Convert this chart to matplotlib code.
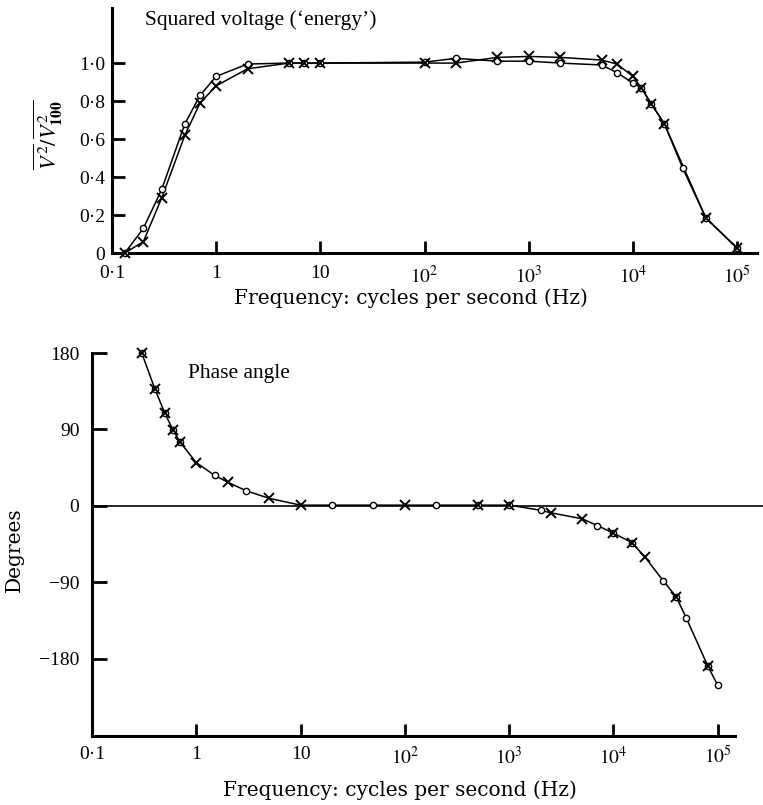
import matplotlib
matplotlib.use('Agg')
import matplotlib.pyplot as plt
from matplotlib.ticker import NullLocator

plt.rcParams['font.family'] = ['Liberation Serif', 'DejaVu Serif']
plt.rcParams['mathtext.fontset'] = 'stix'

# squared voltage, two runs (circles and crosses)
energy_o_freq = [0.133, 0.2, 0.3, 0.5, 0.7, 1.0, 2.0, 5.0, 7.0, 10, 100, 200, 500, 1000,
                 2000, 5000, 7000, 10000, 12000, 15000, 20000, 30000, 50000, 100000]
energy_o = [0.0, 0.13, 0.335, 0.68, 0.83, 0.93, 0.995, 1.0, 1.0, 1.0, 1.005, 1.025, 1.01, 1.01,
            1.0, 0.99, 0.95, 0.895, 0.87, 0.785, 0.68, 0.447, 0.185, 0.025]

energy_x_freq = [0.133, 0.2, 0.3, 0.5, 0.7, 1.0, 2.0, 5.0, 7.0, 10, 100, 200, 500, 1000,
                 2000, 5000, 7000, 10000, 12000, 15000, 20000, 50000, 100000]
energy_x = [0.0, 0.06, 0.29, 0.62, 0.79, 0.88, 0.97, 1.0, 1.0, 1.0, 1.0, 1.0, 1.03, 1.035,
            1.03, 1.016, 0.995, 0.93, 0.87, 0.785, 0.68, 0.185, 0.025]

# phase angle, o / x / both
phase_freq = [0.3, 0.4, 0.5, 0.6, 0.7, 1.0, 1.5, 2.0, 3.0, 5.0, 10, 20, 50, 100, 200, 500,
              1000, 2000, 2500, 5000, 7000, 10000, 15000, 20000, 30000, 40000, 50000, 80000, 100000]
phase_deg = [180, 138, 109, 89, 75, 51, 36, 28, 18, 9, 1, 1, 1, 1, 1, 1,
             1, -5, -8, -15, -23, -32, -43, -60, -88, -107, -132, -188, -211]
phase_mark = ['ox', 'ox', 'ox', 'ox', 'ox', 'x', 'o', 'x', 'o', 'x', 'x', 'o', 'o', 'x', 'o', 'ox',
              'ox', 'o', 'x', 'x', 'o', 'ox', 'ox', 'x', 'o', 'ox', 'o', 'ox', 'o']

freq_ticks = [0.1, 1, 10, 100, 1000, 10000, 100000]
freq_labels = ['0·1', '1', '10', '$10^2$', '$10^3$', '$10^4$', '$10^5$']
energy_ticks = [0, 0.2, 0.4, 0.6, 0.8, 1.0]
energy_labels = ['0', '0·2', '0·4', '0·6', '0·8', '1·0']
phase_ticks = [180, 90, 0, -90, -180]
phase_labels = ['180', '90', '0', '−90', '−180']

W, H = 763, 805
fig = plt.figure(figsize=(W / 100, H / 100), dpi=100)

circ = dict(marker='o', ms=4.5, mfc='white', mec='black', mew=1.0, ls='none', zorder=4)
cross = dict(marker='x', ms=6.5, mec='black', mew=1.4, ls='none', zorder=5)


def style_axes(ax):
    for s in ['top', 'right']:
        ax.spines[s].set_visible(False)
    for s in ['left', 'bottom']:
        ax.spines[s].set_linewidth(2.2)
    ax.set_xscale('log')
    ax.xaxis.set_minor_locator(NullLocator())
    ax.tick_params(axis='both', direction='in', length=9, width=2, labelsize=14, pad=5)
    ax.set_xticks(freq_ticks, freq_labels)


# top panel
ax1 = fig.add_axes([112 / W, 1 - 253 / H, 645 / W, 245 / H])
style_axes(ax1)
ax1.plot(energy_o_freq, energy_o, color='black', lw=1.1)
ax1.plot(energy_x_freq, energy_x, color='black', lw=1.1)
ax1.plot(energy_o_freq, energy_o, **circ)
ax1.plot(energy_x_freq, energy_x, **cross)
ax1.set_xlim(0.1, 10 ** 5.19)
ax1.set_ylim(0, 1.29)
ax1.set_yticks(energy_ticks, energy_labels)
ax1.tick_params(axis='x', pad=9)
for p in ax1.lines:
    p.set_clip_on(False)

fig.text(145 / W, 1 - 20 / H, "Squared voltage (‘energy’)", fontsize=15.5, ha='left', va='center')
fig.text(48 / W, 1 - 135 / H, r'$\overline{V^2}/\overline{V^2_{\mathbf{100}}}$', fontsize=16,
         rotation=90, ha='center', va='center')
fig.text(411 / W, 1 - 298 / H, 'Frequency: cycles per second (Hz)', fontsize=14.5,
         family='DejaVu Serif', ha='center', va='center')

# bottom panel
ax2 = fig.add_axes([92 / W, 1 - 736 / H, 643 / W, 383 / H])
style_axes(ax2)
ax2.axhline(0, xmin=0, xmax=1.044, color='black', lw=1.2, clip_on=False, zorder=2)
ax2.plot(phase_freq, phase_deg, color='black', lw=1.1, zorder=3)
ax2.plot([f for f, m in zip(phase_freq, phase_mark) if 'o' in m],
         [d for d, m in zip(phase_deg, phase_mark) if 'o' in m], **circ)
ax2.plot([f for f, m in zip(phase_freq, phase_mark) if 'x' in m],
         [d for d, m in zip(phase_deg, phase_mark) if 'x' in m], **cross)
ax2.set_xlim(0.1, 10 ** 5.165)
ax2.set_ylim(-270.6, 180)
ax2.set_yticks(phase_ticks, phase_labels)
ax2.tick_params(axis='y', length=11, pad=9)
ax2.tick_params(axis='x', pad=7)
for p in ax2.lines:
    p.set_clip_on(False)

fig.text(188 / W, 1 - 373 / H, 'Phase angle', fontsize=15.5, ha='left', va='center')
fig.text(14 / W, 1 - 550 / H, 'Degrees', fontsize=14.5, family='DejaVu Serif',
         rotation=90, ha='center', va='center')
fig.text(400 / W, 1 - 790 / H, 'Frequency: cycles per second (Hz)', fontsize=14.5,
         family='DejaVu Serif', ha='center', va='center')

fig.savefig('out.png', dpi=100)
